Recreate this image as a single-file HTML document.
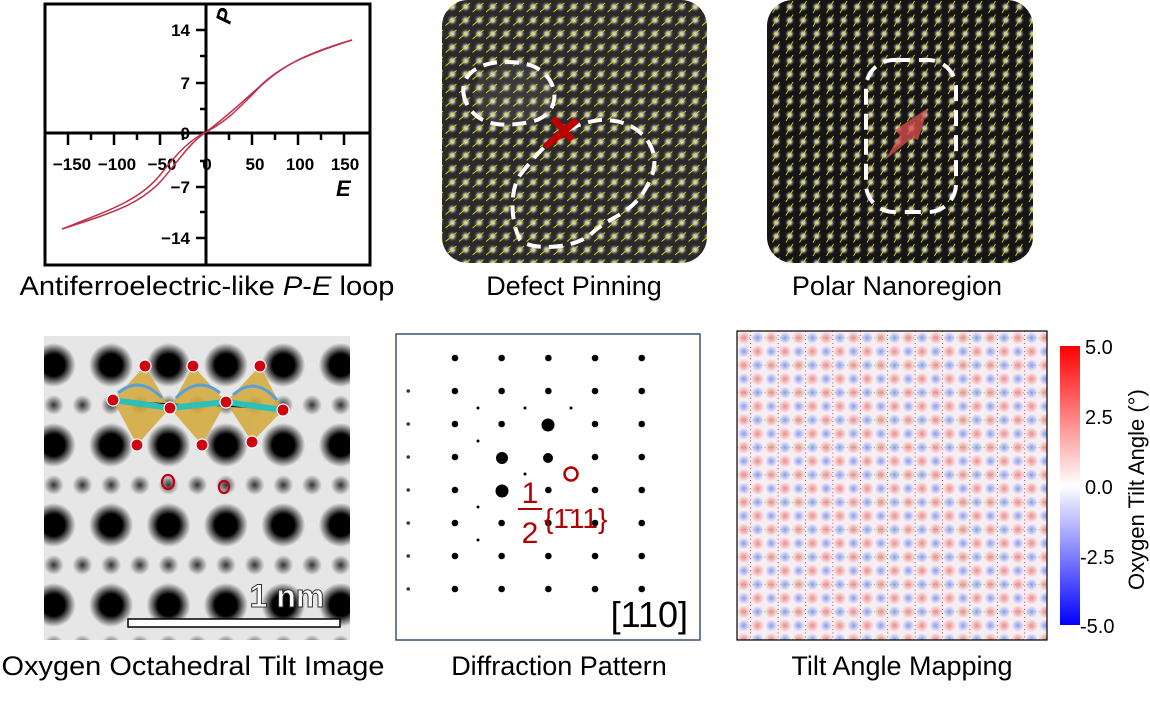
<!DOCTYPE html>
<html><head><meta charset="utf-8"><style>
body{margin:0;background:#fff;width:1150px;height:701px;overflow:hidden;font-family:"Liberation Sans",Arial,sans-serif}
svg{position:absolute;left:0;top:0}
</style></head><body>
<svg width="1150" height="701" viewBox="0 0 1150 701" font-family="Liberation Sans, Arial, sans-serif">
<defs>
<radialGradient id="wd"><stop offset="0" stop-color="#fff"/><stop offset="0.4" stop-color="#aaa"/><stop offset="1" stop-color="#333" stop-opacity="0"/></radialGradient>
<pattern id="lat" width="13.5" height="13.5" patternUnits="userSpaceOnUse">
<rect width="13.5" height="13.5" fill="#2a2a2a"/><circle cx="6.75" cy="6.75" r="5.5" fill="url(#wd)"/>
<line x1="0" y1="12" x2="11" y2="3" stroke="#d8d800" stroke-width="0.9"/></pattern>
<pattern id="lat2" width="13.5" height="13.5" patternUnits="userSpaceOnUse">
<rect width="13.5" height="13.5" fill="#151515"/><circle cx="6.75" cy="6.75" r="5" fill="url(#wd)"/>
<line x1="3" y1="13" x2="10" y2="1" stroke="#d8d800" stroke-width="0.9"/></pattern>
<radialGradient id="bd"><stop offset="0" stop-color="#000"/><stop offset="0.5" stop-color="#000"/><stop offset="1" stop-color="#000" stop-opacity="0"/></radialGradient>
<radialGradient id="gd"><stop offset="0" stop-color="#333"/><stop offset="1" stop-color="#333" stop-opacity="0"/></radialGradient>
<pattern id="oct" x="25" y="338" width="57.4" height="80" patternUnits="userSpaceOnUse">
<rect width="57.4" height="80" fill="#e6e6e6"/>
<circle cx="28.7" cy="27" r="22" fill="url(#bd)"/>
<circle cx="28.7" cy="67" r="10" fill="url(#gd)"/>
<circle cx="0" cy="67" r="10" fill="url(#gd)"/><circle cx="57.4" cy="67" r="10" fill="url(#gd)"/>
</pattern>
<pattern id="dif" x="431.6" y="341.5" width="46.7" height="33" patternUnits="userSpaceOnUse">
<circle cx="23.35" cy="16.5" r="3.3" fill="#000"/>
</pattern>
<pattern id="dif2" x="431.6" y="341.5" width="46.7" height="33" patternUnits="userSpaceOnUse">
<circle cx="23.35" cy="16.5" r="1.8" fill="#333"/>
</pattern>
<radialGradient id="rdot"><stop offset="0" stop-color="#f08a8a"/><stop offset="1" stop-color="#f08a8a" stop-opacity="0"/></radialGradient>
<radialGradient id="bdot"><stop offset="0" stop-color="#8a9af2"/><stop offset="1" stop-color="#8a9af2" stop-opacity="0"/></radialGradient>
<pattern id="tilt" x="737" y="331" width="27.4" height="27.4" patternUnits="userSpaceOnUse">
<rect width="27.4" height="27.4" fill="#f6eef2"/>
<circle cx="6.85" cy="6.85" r="6.5" fill="url(#rdot)"/>
<circle cx="20.55" cy="20.55" r="6.5" fill="url(#rdot)"/>
<circle cx="20.55" cy="6.85" r="6" fill="url(#bdot)"/>
<circle cx="6.85" cy="20.55" r="6" fill="url(#bdot)"/>
<line x1="0" y1="6.85" x2="27.4" y2="6.85" stroke="#4c4" stroke-width="0.7" stroke-dasharray="1 3"/>
<line x1="13.7" y1="0" x2="13.7" y2="27.4" stroke="#a00" stroke-width="0.7" stroke-dasharray="1 3"/>
</pattern>
<linearGradient id="cb" x1="0" y1="0" x2="0" y2="1"><stop offset="0" stop-color="#f00"/><stop offset="0.5" stop-color="#fff"/><stop offset="1" stop-color="#00f"/></linearGradient>
</defs>

<!-- Panel 1 -->
<rect x="45" y="4" width="325" height="261" fill="none" stroke="#000" stroke-width="3"/>
<line x1="206" y1="4" x2="206" y2="265" stroke="#000" stroke-width="3"/>
<line x1="45" y1="133" x2="370" y2="133" stroke="#000" stroke-width="3"/>
<g stroke="#000" stroke-width="2.5">
<line x1="196" y1="30" x2="206" y2="30"/><line x1="196" y1="83" x2="206" y2="83"/><line x1="196" y1="187" x2="206" y2="187"/><line x1="196" y1="238" x2="206" y2="238"/>
<line x1="200" y1="56" x2="206" y2="56"/><line x1="200" y1="109" x2="206" y2="109"/><line x1="200" y1="161" x2="206" y2="161"/><line x1="200" y1="212" x2="206" y2="212"/>
<line x1="68" y1="133" x2="68" y2="145"/><line x1="114" y1="133" x2="114" y2="145"/><line x1="160" y1="133" x2="160" y2="145"/><line x1="252" y1="133" x2="252" y2="145"/><line x1="298" y1="133" x2="298" y2="145"/><line x1="344" y1="133" x2="344" y2="145"/>
<line x1="91" y1="133" x2="91" y2="140"/><line x1="137" y1="133" x2="137" y2="140"/><line x1="183" y1="133" x2="183" y2="140"/><line x1="229" y1="133" x2="229" y2="140"/><line x1="275" y1="133" x2="275" y2="140"/><line x1="321" y1="133" x2="321" y2="140"/>
</g>
<g font-size="17" font-weight="bold" text-anchor="end">
<text x="190" y="36">14</text><text x="190" y="89">7</text><text x="190" y="139">0</text><text x="190" y="193">−7</text><text x="190" y="244">−14</text>
</g>
<g font-size="17" font-weight="bold" text-anchor="middle">
<text x="72" y="170">−150</text><text x="117" y="170">−100</text><text x="162" y="170">−50</text><text x="207" y="170">0</text><text x="255" y="170">50</text><text x="300" y="170">100</text><text x="345" y="170">150</text>
</g>
<text x="0" y="0" font-size="22" font-weight="bold" font-style="italic" transform="translate(230,25) rotate(-75)">P</text>
<text x="336" y="196" font-size="22" font-weight="bold" font-style="italic">E</text>
<g fill="none" stroke="#c0304a" stroke-width="1.5">
<path d="M62,229 C110,210 140,200 160,175 C180,150 190,140 206,132 C225,122 235,112 252,95 C275,70 300,55 352,40"/>
<path d="M62,229 C115,212 140,204 162,180 C182,156 190,143 206,132 C225,118 240,104 258,88 C280,66 305,55 352,40"/>
</g>
<text x="207" y="295" font-size="27" text-anchor="middle" textLength="375" lengthAdjust="spacingAndGlyphs">Antiferroelectric-like <tspan font-style="italic">P</tspan>-<tspan font-style="italic">E</tspan> loop</text>

<!-- Panel 2 -->
<rect x="442" y="0" width="265" height="263" rx="26" fill="url(#lat)"/>
<ellipse cx="515" cy="95" rx="42" ry="32" fill="#fff" opacity="0.08"/>
<g fill="none" stroke="#fff" stroke-width="4" stroke-dasharray="14 8">
<path d="M465,100 C455,70 490,55 530,65 C560,75 565,115 530,122 C500,128 475,125 465,100Z"/>
<path d="M520,175 C540,150 560,125 600,120 C640,118 665,150 650,180 C635,215 610,215 590,235 C570,250 530,250 520,240 C510,220 510,190 520,175Z"/>
</g>
<g stroke="#c00000" stroke-width="7"><line x1="545" y1="147" x2="577" y2="120"/><line x1="553" y1="118" x2="572" y2="140"/></g>
<text x="574" y="295" font-size="27" text-anchor="middle">Defect Pinning</text>

<!-- Panel 3 -->
<rect x="767" y="0" width="266" height="263" rx="26" fill="url(#lat2)"/>
<rect x="866" y="60" width="90" height="152" rx="28" fill="none" stroke="#fff" stroke-width="4" stroke-dasharray="16 9"/>
<path d="M885,160 L900,135 L895,130 L928,108 L918,140 L912,138 Z" fill="#e05050" opacity="0.75"/>
<text x="897" y="295" font-size="27" text-anchor="middle">Polar Nanoregion</text>

<!-- Panel 4 -->
<rect x="44" y="336" width="306" height="304" fill="url(#oct)"/>
<g fill="#d4a838" opacity="0.85">
<polygon points="145,366 113,400 137,445 170,408"/><polygon points="193,366 170,408 202,445 226,402"/><polygon points="260,366 226,402 252,442 283,410"/>
</g>
<g stroke="#2cc0b8" stroke-width="6"><polyline points="113,400 170,408 226,402 283,410"/></g>
<g fill="none" stroke="#5aa0d8" stroke-width="3"><path d="M118,393 Q140,375 162,398"/><path d="M220,393 Q198,375 176,398"/><path d="M233,395 Q255,375 277,400"/></g>
<g fill="#d00010" stroke="#fff" stroke-width="1.2">
<circle cx="145" cy="366" r="6"/><circle cx="193" cy="366" r="6"/><circle cx="260" cy="366" r="6"/>
<circle cx="113" cy="400" r="6"/><circle cx="170" cy="408" r="6"/><circle cx="226" cy="402" r="6"/><circle cx="283" cy="410" r="6"/>
<circle cx="137" cy="445" r="6"/><circle cx="202" cy="445" r="6"/><circle cx="252" cy="442" r="6"/>
</g>
<g fill="none" stroke="#c00010" stroke-width="2.2"><ellipse cx="168" cy="482" rx="6" ry="7"/><ellipse cx="224" cy="487" rx="5" ry="6"/></g>
<text x="287" y="607" font-size="32" font-weight="bold" fill="#fff" stroke="#333" stroke-width="1" text-anchor="middle">1 nm</text>
<rect x="128" y="619" width="212" height="8" fill="#fff" stroke="#000" stroke-width="1.5"/>
<text x="193" y="675" font-size="27" text-anchor="middle" textLength="383" lengthAdjust="spacingAndGlyphs">Oxygen Octahedral Tilt Image</text>

<!-- Panel 5 -->
<rect x="396" y="334" width="304" height="306" fill="#fff" stroke="#3a5078" stroke-width="1.5"/>
<rect x="448" y="345" width="200" height="260" fill="url(#dif)"/>
<rect x="400" y="375" width="20" height="230" fill="url(#dif2)"/>
<g fill="#000"><circle cx="548" cy="425" r="6.5"/><circle cx="502" cy="458" r="6"/><circle cx="502" cy="491" r="6.5"/><circle cx="548" cy="458" r="5"/></g>
<g fill="#000"><circle cx="525" cy="408" r="1.5"/><circle cx="478" cy="441" r="1.5"/><circle cx="525" cy="474" r="1.5"/><circle cx="478" cy="507" r="1.5"/><circle cx="525" cy="540" r="1.5"/><circle cx="478" cy="540" r="1.5"/><circle cx="571" cy="408" r="1.5"/><circle cx="478" cy="408" r="1.5"/></g>
<circle cx="571" cy="474" r="6.5" fill="none" stroke="#b00000" stroke-width="2.5"/>
<g fill="#b00000"><text x="530" y="503" font-size="30" text-anchor="middle">1</text><line x1="518" y1="509" x2="542" y2="509" stroke="#b00000" stroke-width="2"/><text x="530" y="543" font-size="30" text-anchor="middle">2</text>
<text x="544" y="528" font-size="28">{1̄11}</text></g>
<text x="688" y="627" font-size="36" text-anchor="end">[110]</text>
<text x="559" y="675" font-size="27" text-anchor="middle">Diffraction Pattern</text>

<!-- Panel 6 -->
<rect x="737" y="331" width="310" height="309" fill="url(#tilt)" stroke="#000" stroke-width="1.2"/>
<rect x="1060" y="346" width="20" height="279" fill="url(#cb)"/>
<g font-size="20"><text x="1085" y="354">5.0</text><text x="1085" y="424">2.5</text><text x="1085" y="494">0.0</text><text x="1080" y="564">-2.5</text><text x="1080" y="633">-5.0</text></g>
<text transform="translate(1144,590) rotate(-90)" font-size="22">Oxygen Tilt Angle (°)</text>
<text x="902" y="675" font-size="27" text-anchor="middle">Tilt Angle Mapping</text>
</svg>
</body></html>
